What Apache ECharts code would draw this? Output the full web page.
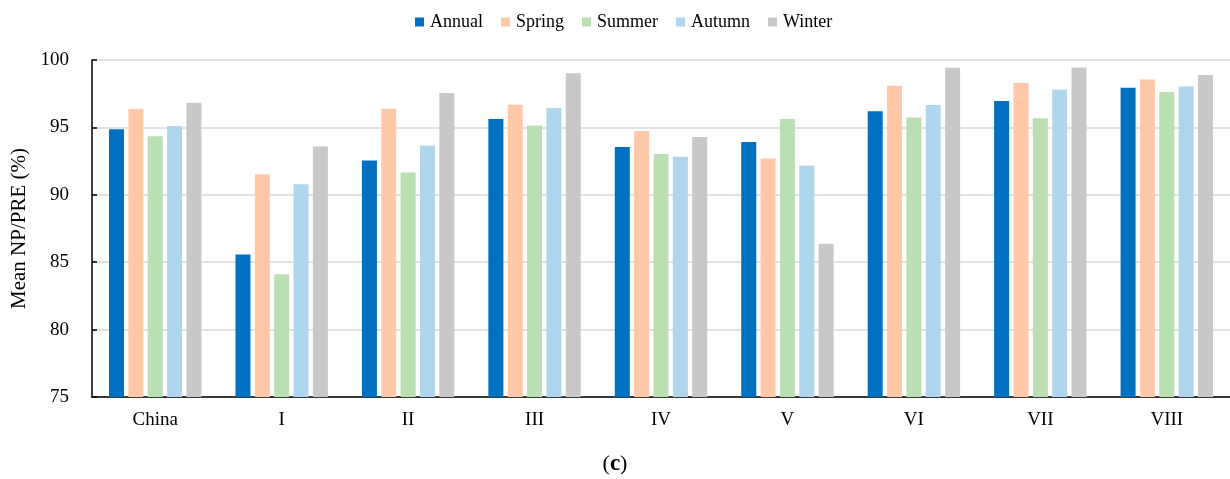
<!DOCTYPE html>
<html>
<head>
<meta charset="utf-8">
<script src="https://cdn.jsdelivr.net/npm/echarts@6/dist/echarts.min.js"></script>
<style>
  html, body { margin: 0; padding: 0; background: #fff; }
  #chart { width: 1230px; height: 479px; }
</style>
</head>
<body>
<div id="chart"></div>
<script>
// Regions and seasonal mean NP/PRE (%)
const regions = ['China', 'I', 'II', 'III', 'IV', 'V', 'VI', 'VII', 'VIII'];
const annual = [94.87, 85.57, 92.55, 95.62, 93.54, 93.91, 96.19, 96.95, 97.94];
const spring = [96.36, 91.53, 96.38, 96.68, 94.73, 92.70, 98.09, 98.29, 98.56];
const summer = [94.35, 84.11, 91.66, 95.15, 93.02, 95.62, 95.74, 95.67, 97.62];
const autumn = [95.10, 90.79, 93.66, 96.43, 92.82, 92.15, 96.66, 97.82, 98.04];
const winter = [96.83, 93.59, 97.55, 99.01, 94.28, 86.36, 99.43, 99.45, 98.88];
const seriesNames = ['Annual', 'Spring', 'Summer', 'Autumn', 'Winter'];
const seriesColors = ['#0070C0', '#FFC8A8', '#B9DFB3', '#AFD6EC', '#C8C8C8'];
const yTicks = [75, 80, 85, 90, 95, 100];

const font = '"Liberation Serif", "Times New Roman", serif';
const values = [annual, spring, summer, autumn, winter];

const chart = echarts.init(document.getElementById('chart'), null, { renderer: 'canvas' });

chart.setOption({
  animation: false,
  backgroundColor: '#ffffff',
  textStyle: { fontFamily: font, color: '#000' },
  legend: {
    top: 8,
    left: 410,
    itemWidth: 9,
    itemHeight: 9,
    itemGap: 18,
    icon: 'rect',
    textStyle: { fontFamily: font, fontSize: 18, color: '#000', padding: [0, 0, 0, 1] },
    data: seriesNames
  },
  grid: { left: 92, right: 0, top: 60, bottom: 82 },
  xAxis: {
    type: 'category',
    data: regions,
    axisLine: { lineStyle: { color: '#000', width: 1.5 } },
    axisTick: { inside: true, length: 5, lineStyle: { color: '#000', width: 1.5 } },
    axisLabel: { fontFamily: font, fontSize: 19, color: '#000', margin: 14 }
  },
  yAxis: {
    type: 'value',
    min: yTicks[0],
    max: yTicks[yTicks.length - 1],
    interval: 5,
    name: 'Mean NP/PRE (%)',
    nameLocation: 'middle',
    nameGap: 54,
    nameTextStyle: { fontFamily: font, fontSize: 21, color: '#000' },
    axisLine: { show: true, lineStyle: { color: '#000', width: 1.5 } },
    axisTick: { show: true, inside: true, length: 5, lineStyle: { color: '#000', width: 1.5 } },
    axisLabel: { fontFamily: font, fontSize: 19, color: '#000', margin: 23 },
    splitLine: { show: true, lineStyle: { color: '#D9D9D9', width: 1.5 } }
  },
  graphic: [{
    type: 'text',
    left: 'center',
    top: 453,
    style: {
      text: '({b|c})',
      font: '22px ' + font,
      fill: '#000',
      rich: { b: { fontFamily: font, fontSize: 23, fontWeight: 'bold', fill: '#000' } }
    }
  }],
  series: seriesNames.map((name, i) => ({
    name: name,
    type: 'bar',
    data: values[i],
    barWidth: 15,
    barGap: '29%',
    itemStyle: { color: seriesColors[i] }
  }))
});
</script>
</body>
</html>
